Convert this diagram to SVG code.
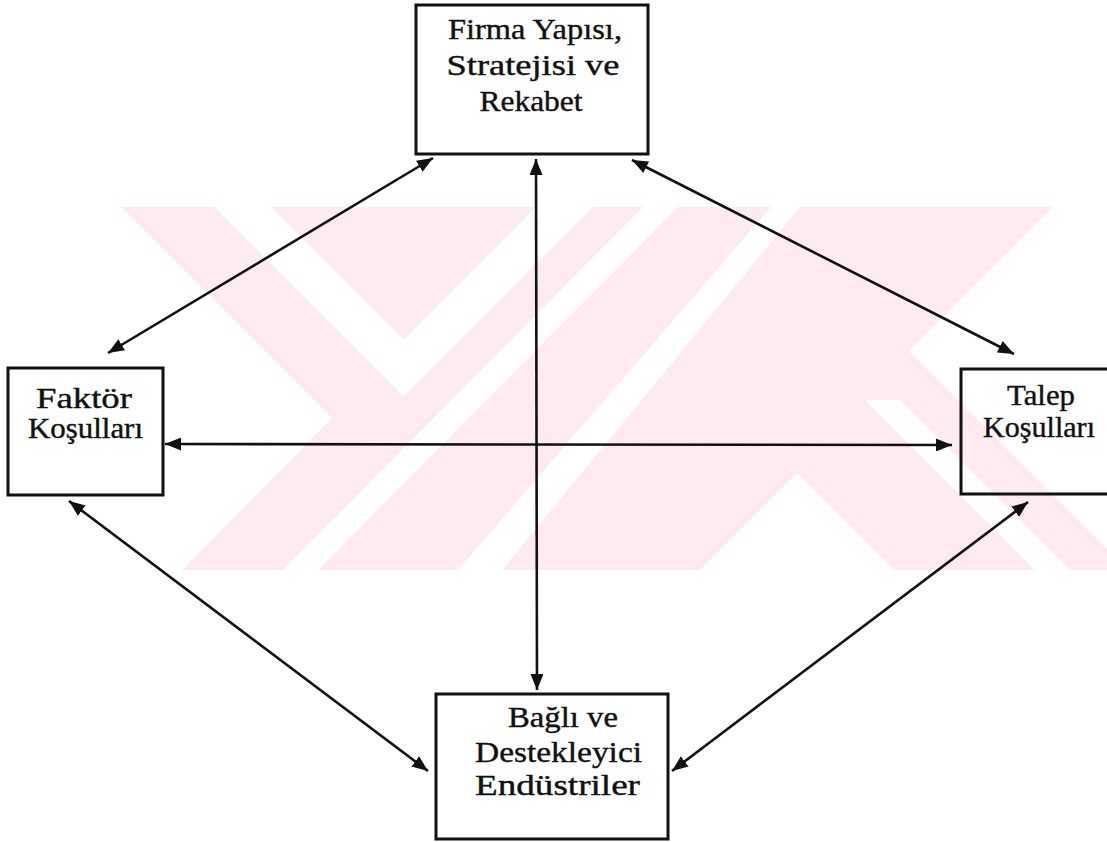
<svg xmlns="http://www.w3.org/2000/svg" width="1107" height="842" viewBox="0 0 1107 842">
  <defs>
    <style>
      .box { fill: none; stroke: #111; stroke-width: 3; }
      .lbl { font-family: "Liberation Serif", "Times New Roman", serif; font-size: 30px; fill: #111; stroke: #111; stroke-width: 0.4; text-anchor: middle; }
      .link { stroke: #111; stroke-width: 2.6; fill: none; marker-start: url(#head); marker-end: url(#head); }
      .wm { fill: #fdebef; }
      .wm-gap { fill: #ffffff; }
    </style>
    <marker id="head" markerUnits="userSpaceOnUse" markerWidth="17" markerHeight="13" refX="16" refY="6.5" orient="auto-start-reverse">
      <path d="M0,0 L16,6.5 L0,13 Z" fill="#111"/>
    </marker>
    <clipPath id="band">
      <rect x="0" y="207" width="1107" height="363"/>
    </clipPath>
  </defs>

  <rect width="1107" height="842" fill="#ffffff"/>

  <!-- pale background emblem -->
  <g id="emblem" clip-path="url(#band)">
    <polygon class="wm" points="121,207 1053,207 909,351 1107,549 1107,570 182,570 332,418"/>
    <polygon class="wm-gap" points="214,207 403.5,396.5 593,207 536,207 403.5,339.5 271,207"/>
    <polygon class="wm-gap" points="643,207 678,207 318,570 283,570"/>
    <polygon class="wm-gap" points="771,207 800,207 502,570 458,570"/>
    <polygon class="wm-gap" points="797,473 894,570 700,570"/>
    <polygon class="wm-gap" points="865,400 900,400 1070,570 1035,570"/>
  </g>

  <!-- two-way links between the four factors -->
  <g id="connectors">
    <line class="link" x1="433" y1="158" x2="108" y2="353"/>
    <line class="link" x1="632" y1="160" x2="1014" y2="354"/>
    <line class="link" x1="536" y1="159" x2="537" y2="690"/>
    <line class="link" x1="165" y1="444" x2="952" y2="445"/>
    <line class="link" x1="69" y1="501" x2="428" y2="771"/>
    <line class="link" x1="1028" y1="502" x2="672" y2="771"/>
  </g>

  <g id="node-firma">
    <rect class="box" x="416" y="5" width="232" height="149"/>
    <text class="lbl" x="535" y="39" textLength="174" lengthAdjust="spacingAndGlyphs">Firma Yapısı,</text>
    <text class="lbl" x="533" y="75" textLength="173" lengthAdjust="spacingAndGlyphs">Stratejisi ve</text>
    <text class="lbl" x="531" y="111" textLength="103" lengthAdjust="spacingAndGlyphs">Rekabet</text>
  </g>

  <g id="node-faktor">
    <rect class="box" x="8" y="368" width="155" height="127"/>
    <text class="lbl" x="84" y="408" textLength="96" lengthAdjust="spacingAndGlyphs">Faktör</text>
    <text class="lbl" x="85.5" y="438" textLength="115" lengthAdjust="spacingAndGlyphs">Koşulları</text>
  </g>

  <g id="node-talep">
    <rect class="box" x="961" y="369" width="160" height="125"/>
    <text class="lbl" x="1041" y="405" textLength="68" lengthAdjust="spacingAndGlyphs">Talep</text>
    <text class="lbl" x="1039" y="437" textLength="112" lengthAdjust="spacingAndGlyphs">Koşulları</text>
  </g>

  <g id="node-bagli">
    <rect class="box" x="436" y="694" width="232" height="145"/>
    <text class="lbl" x="563" y="727" textLength="110" lengthAdjust="spacingAndGlyphs">Bağlı ve</text>
    <text class="lbl" x="558.5" y="762" textLength="167" lengthAdjust="spacingAndGlyphs">Destekleyici</text>
    <text class="lbl" x="557.5" y="795" textLength="165" lengthAdjust="spacingAndGlyphs">Endüstriler</text>
  </g>
</svg>
